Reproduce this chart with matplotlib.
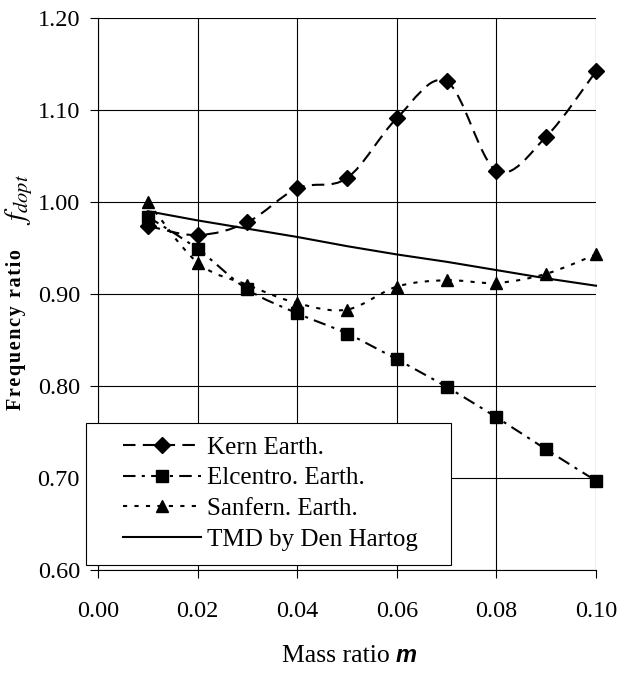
import matplotlib
matplotlib.use('Agg')
import matplotlib.pyplot as plt
from matplotlib.path import Path
from matplotlib.patches import PathPatch, Rectangle
from matplotlib.lines import Line2D

# Daten
mass_ratio = [0.01, 0.02, 0.03, 0.04, 0.05, 0.06, 0.07, 0.08, 0.09, 0.10]
kern = [0.974, 0.964, 0.978, 1.015, 1.026, 1.091, 1.131, 1.034, 1.071, 1.142]
elcentro = [0.984, 0.949, 0.905, 0.879, 0.857, 0.829, 0.799, 0.766, 0.731, 0.697]
sanfern = [1.000, 0.934, 0.910, 0.890, 0.883, 0.908, 0.915, 0.912, 0.922, 0.943]
den_hartog = [0.990, 0.980, 0.971, 0.962, 0.952, 0.943, 0.935, 0.926, 0.917, 0.909]
labels = ['Kern Earth.', 'Elcentro. Earth.', 'Sanfern. Earth.', 'TMD by Den Hartog']
x_ticks = [0.00, 0.02, 0.04, 0.06, 0.08, 0.10]
y_ticks = [0.60, 0.70, 0.80, 0.90, 1.00, 1.10, 1.20]

plt.rcParams['font.family'] = ['Liberation Serif', 'DejaVu Serif']
plt.rcParams['mathtext.fontset'] = 'stix'

W, H = 619, 674


def smooth_path(xs, ys):
    '''
    Glatte Kurve wie in Excel (Bezier-Segmente durch die Datenpunkte)
    '''
    pts = list(zip(xs, ys))
    n = len(pts)
    verts = [pts[0]]
    codes = [Path.MOVETO]
    for i in range(n - 1):
        p0 = pts[i - 1] if i > 0 else pts[i]
        p1 = pts[i]
        p2 = pts[i + 1]
        p3 = pts[i + 2] if i + 2 < n else pts[i + 1]
        c1 = (p1[0] + (p2[0] - p0[0]) / 6, p1[1] + (p2[1] - p0[1]) / 6)
        c2 = (p2[0] - (p3[0] - p1[0]) / 6, p2[1] - (p3[1] - p1[1]) / 6)
        verts += [c1, c2, p2]
        codes += [Path.CURVE4] * 3
    return Path(verts, codes)


fig = plt.figure(figsize=(W / 100, H / 100), dpi=100)
ax = fig.add_axes([98 / W, 1 - 570 / H, (596 - 98) / W, (570 - 18) / H])

LW = 1.5
styles = [
    (kern, 'D', 8.5, (0, (6, 3.5)), True),
    (elcentro, 's', 8, (0, (6, 3, 1.5, 3)), True),
    (sanfern, '^', 9, (0, (2, 3.5)), True),
    (den_hartog, None, 0, '-', False),
]

handles = []
for (yvals, marker, ms, ls, smooth), lab in zip(styles, labels):
    if smooth:
        patch = PathPatch(smooth_path(mass_ratio, yvals), facecolor='none',
                          edgecolor='black', linewidth=LW, linestyle=ls, zorder=3,
                          clip_on=False)
        ax.add_patch(patch)
        ax.plot(mass_ratio, yvals, linestyle='none', marker=marker, markersize=ms,
                color='black', zorder=4, clip_on=False)
    else:
        ax.plot(mass_ratio, yvals, linestyle='-', color='black', linewidth=LW, zorder=3,
                clip_on=False)
    handles.append(Line2D([], [], color='black', linewidth=LW, linestyle=ls,
                          marker=marker if marker else None, markersize=ms))

ax.set_xlim(0.0, 0.10)
ax.set_ylim(0.60, 1.20)
ax.set_xticks(x_ticks)
ax.set_yticks(y_ticks)
ax.set_xticklabels(['%.2f' % v for v in x_ticks])
ax.set_yticklabels(['%.2f' % v for v in y_ticks])
ax.tick_params(direction='out', length=6, width=0.8, labelsize=17.5, color='black')
ax.tick_params(axis='x', pad=16)
ax.tick_params(axis='y', pad=7)
ax.grid(True, color='black', linewidth=0.8)
for s in ['top', 'right']:
    ax.spines[s].set_visible(False)
for s in ['left', 'bottom']:
    ax.spines[s].set_linewidth(0.8)

# Legende mit eigenem Rahmen
box = Rectangle((86 / W, 1 - 565 / H), (451 - 86) / W, (565 - 423) / H,
                transform=fig.transFigure, facecolor='white', edgecolor='black',
                linewidth=0.8, zorder=5)
fig.add_artist(box)
leg = fig.legend(handles=handles, labels=labels, loc='upper left',
                 bbox_to_anchor=(123 / W, 1 - 436 / H), fontsize=18, numpoints=1,
                 handlelength=3.1, handletextpad=0.25, borderpad=0, borderaxespad=0,
                 labelspacing=0.33, frameon=False)
leg.set_zorder(6)

# Achsenbeschriftungen
fig.text(16 / W, 1 - 330 / H, '\u200a'.join('Frequency ratio'), rotation=90,
         fontsize=14.5, fontweight='bold', ha='center', va='center')
fig.text(19 / W, 1 - 199 / H, r'$f_{dopt}$', rotation=90, fontsize=21,
         ha='center', va='center')
fig.text(396 / W, 1 - 656 / H, 'Mass ratio ', fontsize=18.5, ha='right', va='center')
fig.text(396 / W, 1 - 656 / H, 'm', fontsize=17, ha='left', va='center',
         family='Liberation Sans', fontweight='bold', style='italic')

fig.savefig('out.png', dpi=100)
